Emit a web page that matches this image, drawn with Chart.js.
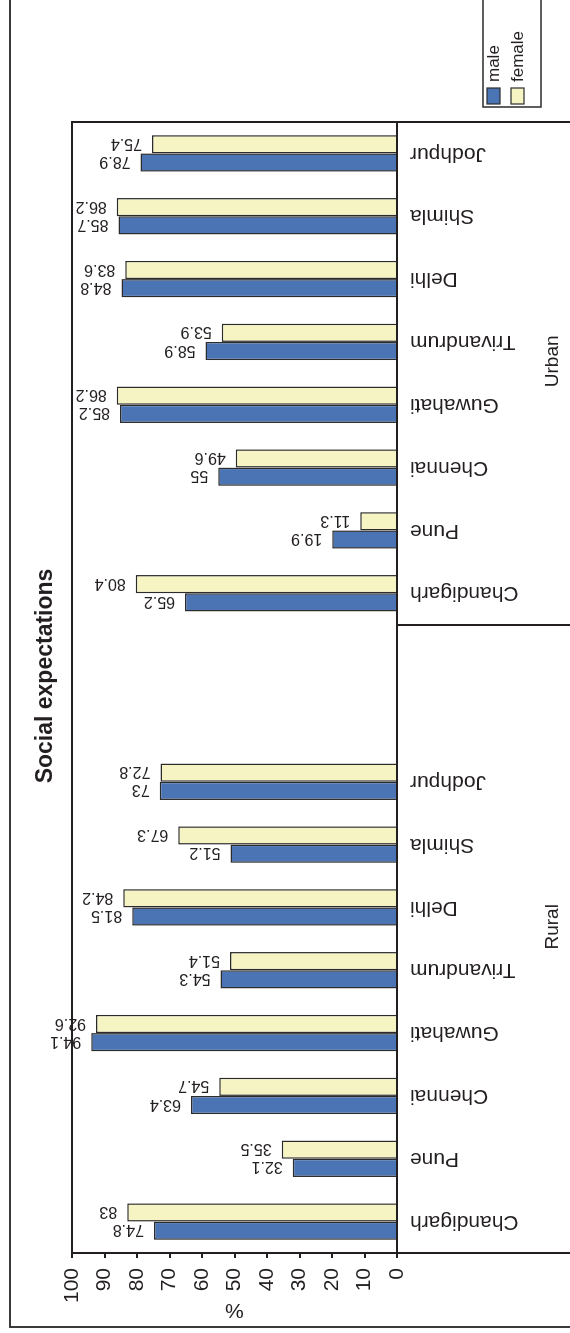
<!DOCTYPE html>
<html>
<head>
<meta charset="utf-8">
<script src="https://cdn.jsdelivr.net/npm/chart.js@4.4.1/dist/chart.umd.min.js"></script>
<style>
  html, body { margin: 0; padding: 0; background: #fff; }
  #page { position: relative; width: 570px; height: 1333px; overflow: hidden; background: #fff; }
  /* the chart is laid out landscape and turned a quarter turn counter-clockwise */
  #turn { position: absolute; left: 0; top: 0; width: 1333px; height: 570px;
          transform-origin: 0 0; transform: translateY(1333px) rotate(-90deg); }
  canvas { display: block; }
</style>
</head>
<body>
<div id="page"><div id="turn"><canvas id="c" width="1333" height="570"></canvas></div></div>
<script>
// ---- data ----
const cities = ['Chandigarh', 'Pune', 'Chennai', 'Guwahati', 'Trivandrum', 'Delhi', 'Shimla', 'Jodhpur'];
const categories = [...cities, '', '', ...cities];
const maleValues   = [74.8, 32.1, 63.4, 94.1, 54.3, 81.5, 51.2, 73,   null, null, 65.2, 19.9, 55,   85.2, 58.9, 84.8, 85.7, 78.9];
const femaleValues = [83,   35.5, 54.7, 92.6, 51.4, 84.2, 67.3, 72.8, null, null, 80.4, 11.3, 49.6, 86.2, 53.9, 83.6, 86.2, 75.4];
const seriesNames = ['male', 'female'];
const groupNames = ['Rural', 'Urban'];
const groupSpans = [[0, 9], [10, 17]];
const valueTicks = [0, 10, 20, 30, 40, 50, 60, 70, 80, 90, 100];

const FONT = '"Liberation Sans", Arial, Helvetica, sans-serif';
const INK = '#231f20';
const BLUE = '#4a74b3';
const CREAM = '#f6f4c2';

Chart.defaults.font.family = FONT;
Chart.defaults.color = INK;

// value labels, frame, plot box, group separators, group names, title and legend
const decorations = {
  id: 'decorations',
  afterDatasetsDraw(chart) {
    const ctx = chart.ctx;
    // value labels above every bar, reading upward
    ctx.save();
    ctx.fillStyle = INK;
    ctx.font = '16px ' + FONT;
    chart.data.datasets.forEach((ds, di) => {
      const meta = chart.getDatasetMeta(di);
      meta.data.forEach((bar, i) => {
        const v = ds.data[i];
        if (v === null || v === undefined) return;
        ctx.save();
        ctx.translate(bar.x, bar.y - 10);
        ctx.rotate(-Math.PI / 2);
        ctx.textAlign = 'left';
        ctx.textBaseline = 'middle';
        ctx.fillText(String(v), 0, 1);
        ctx.restore();
      });
    });
    ctx.restore();
  },
  afterDraw(chart) {
    const ctx = chart.ctx;
    const area = chart.chartArea;
    const xs = chart.scales.x;
    ctx.save();
    ctx.lineWidth = 2;
    ctx.lineCap = 'square';

    // outer frame
    ctx.strokeStyle = '#3a3a3a';
    ctx.beginPath();
    ctx.moveTo(6, 1400); ctx.lineTo(6, 10); ctx.lineTo(1400, 10);
    ctx.stroke();

    // plot box (top and right edges)
    ctx.strokeStyle = INK;
    ctx.beginPath();
    ctx.moveTo(area.left, area.top); ctx.lineTo(area.right, area.top); ctx.lineTo(area.right, area.bottom);
    ctx.stroke();

    // group separators below the category axis
    const bounds = [-0.5, groupSpans[0][1] + 0.5, groupSpans[1][1] + 0.5];
    ctx.beginPath();
    bounds.forEach(b => {
      const px = Math.round(xs.getPixelForValue(b));
      ctx.moveTo(px, area.bottom);
      ctx.lineTo(px, 572);
    });
    ctx.stroke();

    // group names
    ctx.fillStyle = INK;
    ctx.font = '19px ' + FONT;
    ctx.textAlign = 'center';
    ctx.textBaseline = 'middle';
    groupNames.forEach((g, k) => {
      const mid = (groupSpans[k][0] + groupSpans[k][1]) / 2;
      ctx.fillText(g, xs.getPixelForValue(mid) + 12, 553);
    });

    // title
    ctx.font = 'bold 23px ' + FONT;
    ctx.fillText('Social expectations', 657, 46);

    // legend
    ctx.lineWidth = 1.5;
    ctx.strokeStyle = '#2b2b2b';
    ctx.strokeRect(1226, 483, 130, 58);
    const colors = [BLUE, CREAM];
    const rows = [493.5, 517.5];
    ctx.font = '17px ' + FONT;
    ctx.textAlign = 'left';
    seriesNames.forEach((name, k) => {
      ctx.fillStyle = colors[k];
      ctx.fillRect(1229, rows[k] - 6.5, 16, 13);
      ctx.lineWidth = 1.2;
      ctx.strokeRect(1229, rows[k] - 6.5, 16, 13);
      ctx.fillStyle = INK;
      ctx.fillText(name, 1251, rows[k] + 1);
    });
    ctx.restore();
  }
};

new Chart(document.getElementById('c'), {
  type: 'bar',
  data: {
    labels: categories,
    datasets: [
      { label: seriesNames[0], data: maleValues, backgroundColor: BLUE, borderColor: '#2b2b2b',
        borderWidth: 1.5, categoryPercentage: 0.58, barPercentage: 1 },
      { label: seriesNames[1], data: femaleValues, backgroundColor: CREAM, borderColor: '#2b2b2b',
        borderWidth: 1.5, categoryPercentage: 0.58, barPercentage: 1 }
    ]
  },
  options: {
    responsive: false,
    animation: false,
    devicePixelRatio: 1,
    layout: { padding: { left: 0, top: 72, right: 122, bottom: 0 } },
    plugins: { legend: { display: false }, title: { display: false }, tooltip: { enabled: false } },
    scales: {
      x: {
        ticks: { autoSkip: false, minRotation: 90, maxRotation: 90, padding: 13,
                 font: { size: 21 }, color: INK },
        grid: { display: false, drawTicks: false },
        border: { display: true, color: INK, width: 2 },
        afterFit(s) { s.height = 173; }
      },
      y: {
        min: valueTicks[0],
        max: valueTicks[valueTicks.length - 1],
        afterBuildTicks(s) { s.ticks = valueTicks.map(v => ({ value: v })); },
        ticks: { font: { size: 21 }, color: INK, padding: 10 },
        grid: { drawOnChartArea: false, drawTicks: true, tickLength: 5, color: INK, lineWidth: 2 },
        border: { display: true, color: INK, width: 2 },
        title: { display: true, text: '%', color: INK, font: { size: 21 }, padding: { top: 11, bottom: 0 } },
        afterFit(s) { s.width = 80; }
      }
    }
  },
  plugins: [decorations]
});
</script>
</body>
</html>
